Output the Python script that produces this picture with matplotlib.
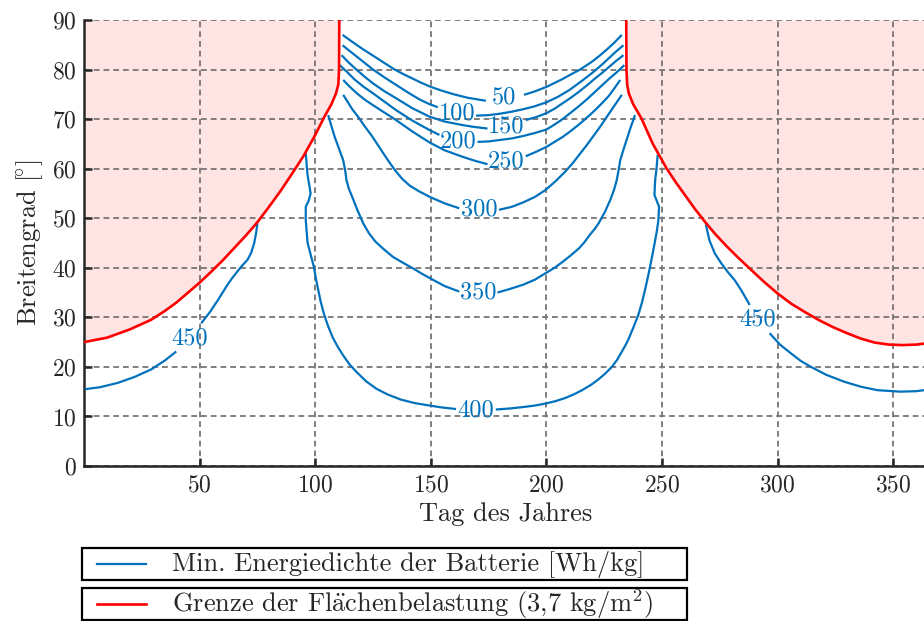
import numpy as np
import matplotlib
matplotlib.use("Agg")
import matplotlib.pyplot as plt
from matplotlib.patches import Rectangle
from matplotlib.lines import Line2D

plt.rcParams.update({
    "font.family": ["cmr10"],
    "mathtext.fontset": "cm",
    "axes.formatter.use_mathtext": True,
    "axes.unicode_minus": False,
})

nan = np.nan
# ---- data: contour lines (day of year, latitude); nan marks the gap of the inline label
c50_day = [111.8, 116, 120, 124, 128, 134, 138, 142, 146, 150, 155, 160, 166, 173.8, nan,
           190.3, 195, 200, 203.5, 207, 210.5, 214.5, 217.5, 220, 223, 226, 229.5, 232.6]
c50_lat = [87.0, 85.6, 84.3, 83.1, 81.9, 80.1, 79.1, 78.2, 77.3, 76.5, 75.7, 75.0, 74.3, 73.7, nan,
           74.9, 75.6, 76.5, 77.3, 78.1, 79.0, 80.0, 80.9, 81.7, 82.8, 84.0, 85.5, 87.0]

c100_day = [111.8, 115, 118, 121.5, 125, 130, 135, 140, 145, 149, 153, nan,
            169.5, 175, 180, 185, 190, 195, 200, 205, 210, 215, 220, 224, 227, 230, 233.3]
c100_lat = [84.9, 83.7, 82.6, 81.3, 80.0, 78.4, 76.9, 75.4, 74.0, 73.1, 72.4, nan,
            70.7, 70.8, 71.1, 71.5, 72.0, 72.6, 73.4, 74.5, 75.9, 77.6, 79.4, 81.0, 82.3, 83.6, 84.9]

c150_day = [111.4, 114.5, 117.8, 121.5, 125, 130, 135, 142, 149.4, 156, 163.7, 169, 174.5, nan,
            191, 195.5, 200, 203.5, 207, 210.5, 214, 217.5, 221, 224, 227, 230, 233.3]
c150_lat = [82.9, 81.4, 80.0, 78.5, 77.2, 75.6, 74.2, 72.2, 70.5, 69.5, 68.8, 68.4, 68.1, nan,
            69.8, 70.4, 71.2, 72.1, 73.2, 74.3, 75.5, 76.8, 78.2, 79.3, 80.5, 81.7, 82.9]

c200_day = [110.6, 114, 117, 121, 125, 130, 135, 142, 149.4, 153.7, nan,
            170.2, 175, 180, 185, 190, 195, 200, 203.5, 207, 210.5, 214, 217.5, 221, 224, 227, 230.5, 233.7]
c200_lat = [80.9, 79.4, 78.0, 76.5, 75.2, 73.5, 71.8, 69.7, 67.8, 66.8, nan,
            65.4, 65.5, 65.8, 66.1, 66.6, 67.2, 67.9, 68.9, 70.0, 71.3, 72.6, 74.0, 75.5, 76.8, 78.1, 79.5, 80.9]

c250_day = [112.1, 115, 118, 121.5, 125, 130, 135, 142, 149.4, 156, 163.7, 169, 174.5, nan,
            191, 195.5, 200, 203.5, 207, 210.5, 214, 217.5, 221, 224, 227, 229.5, 231.9]
c250_lat = [77.9, 76.5, 75.2, 73.9, 72.8, 71.3, 69.8, 67.5, 65.3, 63.7, 62.4, 61.6, 60.9, nan,
            62.5, 63.4, 64.4, 65.4, 66.4, 67.6, 68.9, 70.3, 71.8, 73.2, 74.7, 76.3, 77.9]

c300_day = [112.1, 114, 116, 118.5, 121, 124.5, 127.9, 131, 134.3, 137.5, 140.8, 145, 150, 156, 162.3, nan,
            179.5, 185, 190, 195, 199.6, 204, 208.5, 211.5, 214.5, 217.5, 220, 223, 226, 229.5, 232.6]
c300_lat = [74.9, 73.5, 72.0, 70.5, 68.8, 66.6, 64.2, 62.0, 59.8, 58.0, 56.6, 55.4, 54.2, 53.0, 52.0, nan,
            51.7, 52.3, 53.2, 54.3, 55.7, 57.5, 59.6, 61.2, 63.0, 64.8, 66.4, 68.3, 70.4, 72.8, 74.9]

c350_day = [105.6, 107, 108.5, 110.3, 112.1, 113.0, 113.5, 114.5, 116, 118.2, 120.7, 123.2, 126, 129.5, 133.6,
            138, 142.2, 146.5, 150.8, 156, 162.3, nan,
            178.8, 184, 190, 195, 199.6, 203.5, 207, 210.5, 214, 216.5, 218.5, 220.8, 222.6, 225.3, 227.6,
            229.2, 230.4, 231.2, 231.9, 233.4, 235, 236.6, 238.3]
c350_lat = [70.8, 68.6, 66.3, 64.0, 61.7, 59.5, 57.7, 56.0, 54.3, 51.7, 49.0, 47.0, 45.3, 43.8, 42.2,
            41.0, 39.9, 38.7, 37.6, 36.3, 35.2, nan,
            35.0, 35.7, 36.6, 37.6, 38.9, 40.0, 41.2, 42.5, 43.9, 45.2, 46.5, 47.8, 49.0, 51.3, 53.7,
            55.7, 57.7, 59.7, 61.7, 64.0, 66.3, 68.6, 70.8]

c400_day = [95.9, 96.6, 98.0, 97.2, 95.9, 95.9, 96.7, 99.4, 100.3, 101.3, 102.4, 103.7, 105.5, 107.5, 109.8,
            112.4, 115, 118, 122, 126.4, 131, 137, 143, 149.4, 155, 160.9, nan,
            178.1, 184, 190, 195, 199.6, 204, 208, 212, 215.4, 219, 222, 225.3, 228.3, 230.5, 232.5, 234.2,
            235.5, 237.8, 239.8, 241.3, 242.6, 243.8, 244.8, 245.9, 246.8, 247.8, 248.4, 248.7, 246.7, 247.0,
            247.6, 248.1]
c400_lat = [63.1, 59.0, 55.0, 53.6, 52.3, 49.6, 45.0, 40.2, 37.8, 35.5, 33.1, 30.8, 28.3, 26.0, 24.0,
            22.1, 20.4, 18.9, 17.1, 15.6, 14.5, 13.4, 12.7, 12.2, 11.8, 11.5, nan,
            11.4, 11.6, 11.9, 12.2, 12.6, 13.1, 13.7, 14.5, 15.3, 16.3, 17.3, 18.6, 20.0, 21.4, 23.0, 24.4,
            25.6, 28.2, 30.6, 33.0, 35.5, 38.0, 40.2, 42.8, 45.0, 47.6, 49.6, 52.3, 54.7, 57.7,
            60.0, 62.8]

c450a_day = [75.0, 74.5, 73.6, 72.3, 70.7, 68.5, 66.4, 64.2, 62.1, 59.8, 57.8, 54.5, 50.7, nan,
             39.9, 35, 29.1, 22, 14.8, 7, 0.4]
c450a_lat = [49.0, 47.2, 45.0, 43.0, 41.6, 40.5, 39.3, 38.0, 36.6, 34.9, 33.4, 31.1, 28.8, nan,
             23.1, 21.3, 19.5, 18.0, 16.8, 15.9, 15.5]

c450b_day = [268.9, 270.5, 272.8, 275.6, 278.5, 281.4, 284.2, 287.9, nan,
             296.5, 301, 305.8, 310, 314.4, 321, 328.8, 336, 343.1, 353.1, 360, 365]
c450b_lat = [48.8, 45.5, 42.9, 40.9, 39.1, 37.5, 35.5, 32.5, nan,
             26.8, 24.5, 22.7, 21.2, 20.0, 18.4, 17.0, 16.0, 15.3, 15.0, 15.1, 15.4]

contour_days = [c50_day, c100_day, c150_day, c200_day, c250_day, c300_day, c350_day, c400_day, c450a_day, c450b_day]
contour_lats = [c50_lat, c100_lat, c150_lat, c200_lat, c250_lat, c300_lat, c350_lat, c400_lat, c450a_lat, c450b_lat]

label_values = ["50", "100", "150", "200", "250", "300", "350", "400", "450", "450"]
label_day = [181.7, 161.5, 182.4, 162.0, 182.4, 170.9, 170.6, 169.2, 45.5, 291.4]
label_lat = [74.4, 71.2, 68.6, 65.4, 61.4, 51.7, 35.0, 11.3, 25.8, 29.5]

# ---- data: wing loading limit (red)
red_left_day = [0, 10, 20, 29, 35, 40, 45, 50, 55, 60, 65, 70, 75, 80, 85, 90, 95, 100, 104, 107, 109, 110,
                110.3, 110.4]
red_left_lat = [25.0, 25.9, 27.6, 29.5, 31.3, 33.0, 35.0, 37.0, 39.2, 41.5, 44.0, 46.5, 49.2, 52.3, 55.5, 59.0,
                62.6, 66.8, 70.5, 73.0, 75.2, 77.0, 80.0, 90.0]
red_right_day = [234.5, 234.6, 234.9, 235.6, 237.5, 241, 246, 249, 252, 256, 260, 264, 268.5, 273, 278, 283,
                 288, 294, 300, 306, 312, 318, 324, 330, 336, 342, 348, 354, 360, 365]
red_right_lat = [90.0, 80.0, 77.0, 75.2, 73.0, 70.2, 65.0, 62.5, 60.0, 57.2, 54.6, 52.0, 49.3, 46.8, 44.3, 42.0,
                 39.8, 37.2, 34.8, 32.7, 31.0, 29.4, 28.0, 26.8, 25.7, 24.9, 24.5, 24.4, 24.5, 24.8]

x_ticks = [50, 100, 150, 200, 250, 300, 350]
y_ticks = [0, 10, 20, 30, 40, 50, 60, 70, 80, 90]

BLUE = "#0072BD"
RED = "#FF0000"
FILL = "#FFE4E4"
DARK = "#262626"
FS_TICK = 17
FS_CLAB = 17.5
FS_LAB = 19

W, H = 924, 621
fig = plt.figure(figsize=(W / 100, H / 100), dpi=100)
ax = fig.add_axes([84 / W, 155 / H, 844 / W, 446 / H])

ax.fill_between(red_left_day, red_left_lat, 90, color=FILL, lw=0, zorder=1)
ax.fill_between(red_right_day, red_right_lat, 90, color=FILL, lw=0, zorder=1)

for d, l in zip(contour_days, contour_lats):
    ax.plot(d, l, color=BLUE, lw=1.6, zorder=3, solid_capstyle="butt", solid_joinstyle="round")
for t, d, l in zip(label_values, label_day, label_lat):
    ax.text(d, l, t, color=BLUE, fontsize=FS_CLAB, ha="center", va="center", zorder=4)

ax.plot(red_left_day, red_left_lat, color=RED, lw=1.9, zorder=3, solid_joinstyle="round")
ax.plot(red_right_day, red_right_lat, color=RED, lw=1.9, zorder=3, solid_joinstyle="round")

ax.set_xlim(0, 365)
ax.set_ylim(0, 90)
ax.set_xticks(x_ticks)
ax.set_yticks(y_ticks)
ax.set_axisbelow("line")
ax.grid(True, color="#7a7474", linestyle=(0, (3.2, 2.2)), lw=1.3)
for s in ["top", "right"]:
    ax.spines[s].set_visible(False)
for s in ["left", "bottom"]:
    ax.spines[s].set_color(DARK)
    ax.spines[s].set_linewidth(1.8)
ax.tick_params(direction="in", length=6, width=1.8, colors=DARK, labelsize=FS_TICK, pad=5)
ax.tick_params(axis="x", pad=6)
ax.set_xlabel("Tag des Jahres", fontsize=FS_LAB, color=DARK, labelpad=4)
ax.set_ylabel(r"Breitengrad [$\!^{\circ}$]", fontsize=FS_LAB, color=DARK, labelpad=5)

# ---- legend (two framed entries)
entries = [("Min. Energiedichte der Batterie [Wh/kg]", BLUE, 1.6, 548),
           (r"Grenze der Fl$\ddot{\mathrm{a}}$chenbelastung (3,7 kg/m$^2$)", RED, 1.9, 588)]
for text, col, lw, top in entries:
    fig.add_artist(Rectangle((82 / W, 1 - (top + 32) / H), (687 - 82) / W, 32 / H,
                             transform=fig.transFigure, fill=False, edgecolor="black", lw=1.6))
    yc = 1 - (top + 16) / H
    fig.add_artist(Line2D([97 / W, 146 / W], [yc, yc], transform=fig.transFigure, color=col, lw=lw))
    fig.text(172 / W, yc, text, fontsize=FS_LAB, color=DARK, ha="left", va="center")

fig.savefig("out.png", dpi=100)
